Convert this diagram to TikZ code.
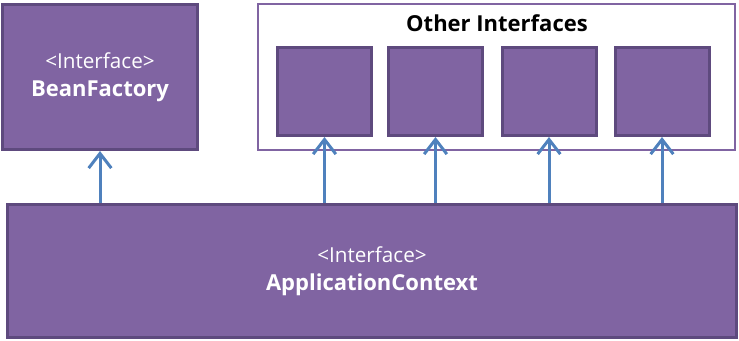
\documentclass[tikz,border=0pt]{standalone}
\usepackage{fontspec}
\setmainfont{Open Sans}
\usetikzlibrary{arrows.meta}
\definecolor{ifacefill}{HTML}{8064A2}
\definecolor{ifaceline}{HTML}{5E4A7E}
\definecolor{arrowblue}{HTML}{4F81BD}
\newcommand{\ifacename}[1]{{\fontsize{16.5}{21}\selectfont\bfseries #1}}

\begin{document}
\begin{tikzpicture}[x=0.75pt, y=-0.75pt, >={Straight Barb[length=11pt,width=17pt]},
    iface/.style={draw=ifaceline, line width=2.25pt, fill=ifacefill, text=white, align=center,
        inner sep=0pt, font=\fontsize{15.5}{21}\selectfont},
    group/.style={draw=ifacefill, line width=1.5pt, inner sep=0pt},
    inherit/.style={->, draw=arrowblue, line width=2.25pt}]
    \useasboundingbox (0,0) rectangle (739,341);

    % top row
    \node[iface, minimum width=146.25pt, minimum height=108.75pt] (bf) at (100,77)
        {<Interface>\\ \ifacename{BeanFactory}};

    \node[group, minimum width=357.75pt, minimum height=109.5pt] (other) at (496.5,77) {};
    \node[font=\fontsize{16.5}{20}\selectfont\bfseries] (othertitle) at (497,23) {Other Interfaces};

    \foreach \i/\x in {1/324.5, 2/435.5, 3/549, 4/662}
        \node[iface, minimum width=70.5pt, minimum height=66pt] (oi\i) at (\x,91.5) {};

    % bottom
    \node[iface, minimum width=546.75pt, minimum height=99.75pt] (ctx) at (372,271)
        {<Interface>\\ \ifacename{ApplicationContext}};

    % inheritance arrows
    \draw[inherit] (ctx.north -| bf.south) -- (bf.south);
    \foreach \i in {1,...,4}
        \draw[inherit] (ctx.north -| oi\i.south) -- (oi\i.south);
\end{tikzpicture}
\end{document}
